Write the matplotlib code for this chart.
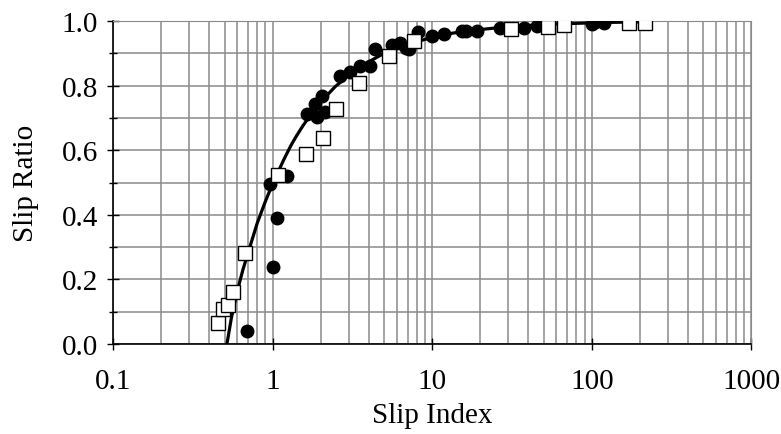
import matplotlib
matplotlib.use("Agg")
import matplotlib.pyplot as plt
from matplotlib.ticker import LogLocator, FixedLocator, NullFormatter

plt.rcParams['font.family'] = ['Liberation Serif', 'DejaVu Serif']

# Filled circles
circle_x = [0.689, 1.0, 1.07, 0.955, 1.23, 1.64, 1.89, 1.85, 2.03, 2.14, 2.65, 3.06, 3.54, 4.08,
            4.38, 5.56, 6.31, 7.1, 6.8, 8.16, 9.9, 11.8, 15.3, 16.2, 19.1, 26.5, 37.5, 45.4,
            101, 119, 104]
circle_y = [0.041, 0.237, 0.390, 0.495, 0.519, 0.712, 0.702, 0.743, 0.769, 0.718, 0.829, 0.843,
            0.862, 0.862, 0.915, 0.926, 0.932, 0.915, 0.918, 0.965, 0.955, 0.960, 0.970, 0.970,
            0.970, 0.980, 0.980, 0.985, 0.991, 0.994, 0.996]

# Open squares
square_x = [0.455, 0.487, 0.524, 0.567, 0.672, 1.08, 1.62, 2.06, 2.50, 3.45, 5.38, 7.71,
            31.1, 53.1, 66.6, 170, 216]
square_y = [0.065, 0.108, 0.121, 0.162, 0.282, 0.523, 0.588, 0.637, 0.728, 0.807, 0.893, 0.938,
            0.975, 0.983, 0.989, 0.994, 0.993]

# Fitted curve
curve_x = [0.516, 0.55, 0.6, 0.65, 0.723, 0.8, 0.896, 1.0, 1.17, 1.3, 1.41, 1.55, 1.71, 2.0,
           2.46, 3.0, 3.8, 4.72, 6.0, 7.5, 9.7, 13.0, 17.4, 30, 50, 76, 120, 216]
curve_y = [0.0, 0.08, 0.165, 0.23, 0.305, 0.375, 0.44, 0.497, 0.57, 0.615, 0.645, 0.677, 0.707,
           0.75, 0.797, 0.833, 0.868, 0.894, 0.917, 0.933, 0.948, 0.962, 0.971, 0.983, 0.99,
           0.993, 0.996, 0.998]

x_ticks = [0.1, 1, 10, 100, 1000]
x_tick_labels = ["0.1", "1", "10", "100", "1000"]
y_ticks = [0.0, 0.2, 0.4, 0.6, 0.8, 1.0]
y_tick_labels = ["0.0", "0.2", "0.4", "0.6", "0.8", "1.0"]

fig = plt.figure(figsize=(7.81, 4.35), dpi=100)
ax = fig.add_axes([0.145, 0.207, 0.817, 0.742])

ax.set_xscale('log')
ax.set_xlim(0.1, 1000)
ax.set_ylim(0.0, 1.0)

ax.set_xticks(x_ticks)
ax.set_xticklabels(x_tick_labels)
ax.xaxis.set_minor_locator(LogLocator(base=10, subs=range(2, 10)))
ax.xaxis.set_minor_formatter(NullFormatter())
ax.set_yticks(y_ticks)
ax.set_yticklabels(y_tick_labels)
ax.yaxis.set_minor_locator(FixedLocator([0.1, 0.3, 0.5, 0.7, 0.9]))

ax.grid(True, which='both', color='#8a8a8a', linewidth=1.1)
ax.set_axisbelow(True)

ax.plot(curve_x, curve_y, color='black', linewidth=2.3, zorder=3)
ax.plot(circle_x, circle_y, 'o', color='black', markersize=9, zorder=4)
ax.plot(square_x, square_y, 's', markerfacecolor='white', markeredgecolor='black',
        markeredgewidth=1.0, markersize=9.5, zorder=5)

for s in ['top', 'right']:
    ax.spines[s].set_color('#8a8a8a')
for s in ['left', 'bottom']:
    ax.spines[s].set_color('black')
    ax.spines[s].set_linewidth(1.2)

ax.tick_params(which='major', direction='inout', length=8, width=1, labelsize=21)
ax.tick_params(which='minor', direction='inout', length=6, width=1)
ax.tick_params(axis='x', which='minor', length=0)
ax.tick_params(axis='x', which='major', pad=13)
ax.tick_params(axis='y', which='major', pad=7)

ax.set_xlabel("Slip Index", fontsize=21, labelpad=6)
ax.set_ylabel("Slip Ratio", fontsize=21, labelpad=16)

fig.savefig("out.png", dpi=100)
